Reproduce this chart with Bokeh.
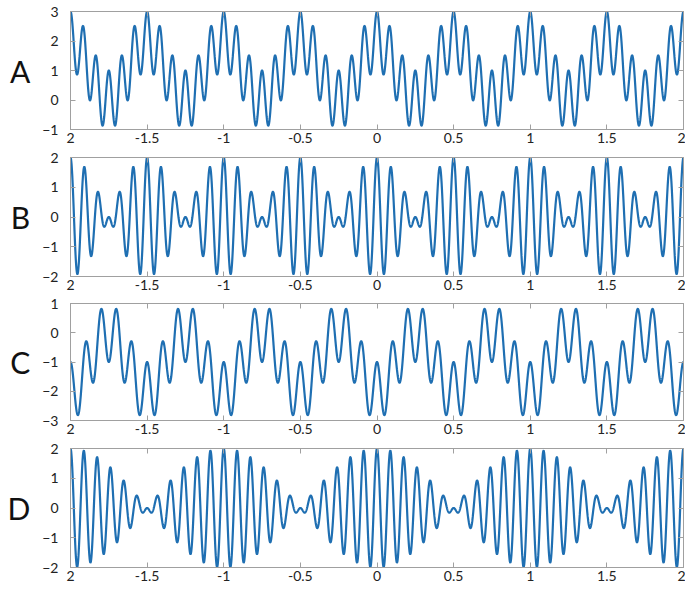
import numpy as np
from bokeh.plotting import figure
from bokeh.layouts import column
from bokeh.models import LinearAxis, FixedTicker, Range1d, ColumnDataSource
from bokeh.embed import file_html
from bokeh.resources import INLINE

# ---- data: each panel is offset + amp1*cos(2*pi*freq1*t) + amp2*cos(2*pi*freq2*t)
panel_names = ["A", "B", "C", "D"]
offsets = [1, 0, -1, 0]
amp1 = [1, 1, -1, 1]
freq1 = [2, 10, 2, 11]
amp2 = [1, 1, 1, 1]
freq2 = [12, 12, 10, 12]
y_lows = [-1, -2, -3, -2]
y_highs = [3, 2, 1, 2]
y_ticks = [[-1, 0, 1, 2, 3], [-2, -1, 0, 1, 2], [-3, -2, -1, 0, 1], [-2, -1, 0, 1, 2]]
x_ticks = [-2, -1.5, -1, -0.5, 0, 0.5, 1, 1.5, 2]
x_tick_labels = ["2", "-1.5", "-1", "-0.5", "0", "0.5", "1", "1.5", "2"]
t_start, t_end, n_samples = -2.0, 2.0, 4001

LINE = "#1f6fb2"
GRAY = "#a0a0a0"
FONT = "Lato"

# layout (pixels): figure heights and top/bottom borders per panel
fig_heights = [149, 146, 145, 152]
top_borders = [11, 8, 8, 8]
bottom_borders = [20, 19, 20, 25]

t = np.linspace(t_start, t_end, n_samples)
figs = []
for i, name in enumerate(panel_names):
    y = offsets[i] + amp1[i] * np.cos(2 * np.pi * freq1[i] * t) + amp2[i] * np.cos(2 * np.pi * freq2[i] * t)
    src = ColumnDataSource(dict(t=t, y=y))
    p = figure(width=685, height=fig_heights[i],
               x_range=Range1d(-2, 2), y_range=Range1d(y_lows[i], y_highs[i]),
               output_backend="svg", toolbar_location=None,
               min_border_left=70, min_border_right=2,
               min_border_top=top_borders[i], min_border_bottom=bottom_borders[i])
    p.line("t", "y", source=src, line_color=LINE, line_width=2.2)
    p.grid.visible = False
    p.outline_line_color = GRAY
    p.background_fill_color = "white"
    p.border_fill_color = "white"

    p.add_layout(LinearAxis(), "above")
    p.add_layout(LinearAxis(), "right")

    for ax in p.xaxis:
        ax.ticker = FixedTicker(ticks=x_ticks)
    for ax in p.yaxis:
        ax.ticker = FixedTicker(ticks=y_ticks[i])
    for ax in p.axis:
        ax.axis_line_color = GRAY
        ax.major_tick_line_color = GRAY
        ax.major_tick_in = 5
        ax.major_tick_out = 0
        ax.minor_tick_line_color = None
        ax.major_label_text_font = FONT
        ax.major_label_text_font_size = "14px"
        ax.major_label_text_color = "#222222"

    bottom = p.below[0]
    bottom.major_label_overrides = {k: v for k, v in zip(x_ticks, x_tick_labels)}
    bottom.major_label_standoff = 3
    left = p.left[0]
    left.major_label_standoff = 12
    left.axis_label = name
    left.axis_label_orientation = "horizontal"
    left.axis_label_text_font = FONT
    left.axis_label_text_font_size = "30px"
    left.axis_label_text_font_style = "normal"
    left.axis_label_text_color = "#111111"
    left.axis_label_standoff = 9
    for ax in (p.above[0], p.right[0]):
        ax.major_label_text_font_size = "1px"
        ax.major_label_text_color = None
        ax.major_label_standoff = 0
    figs.append(p)

layout = column(*figs, spacing=0)
open("out.html", "w").write(file_html(layout, INLINE))
